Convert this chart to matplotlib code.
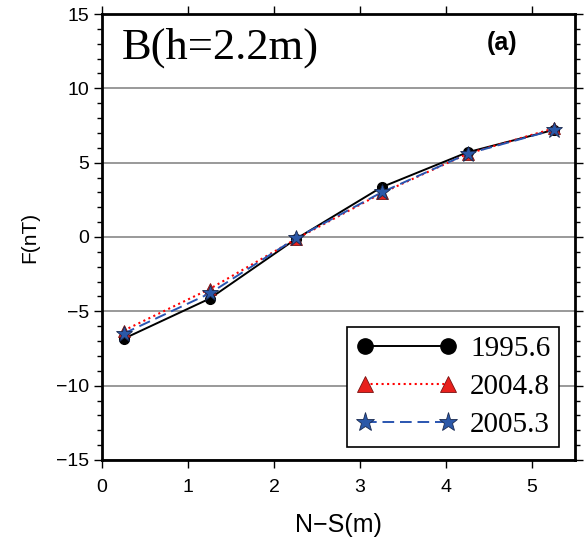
import matplotlib.pyplot as plt
from matplotlib.ticker import MultipleLocator

# data
x = [0.25, 1.25, 2.25, 3.25, 4.25, 5.25]
f_1995 = [-6.85, -4.15, -0.15, 3.35, 5.7, 7.2]
f_2004 = [-6.3, -3.5, -0.15, 2.95, 5.6, 7.3]
f_2005 = [-6.5, -3.8, -0.1, 3.0, 5.6, 7.2]
labels = ["1995.6", "2004.8", "2005.3"]

plt.rcParams['font.family'] = ['Liberation Sans', 'DejaVu Sans']

fig = plt.figure(figsize=(5.84, 5.39), dpi=100)
ax = fig.add_axes([0.1747, 0.1466, 0.81, 0.8274])

ax.plot(x, f_1995, '-', color='black', lw=1.4, marker='o', ms=7,
        mfc='black', mec='black', label=labels[0], zorder=3)
ax.plot(x, f_2004, ':', color='red', lw=1.5, marker='^', ms=9,
        mfc='#e8201c', mec='#7a1010', mew=0.6, label=labels[1], zorder=4)
ax.plot(x, f_2005, '--', color='#2a55b0', lw=1.4, dashes=(6, 3), marker='*', ms=12,
        mfc='#2b58a8', mec='#1a2a50', mew=0.6, label=labels[2], zorder=5)

ax.set_xlim(0, 5.5)
ax.set_ylim(-15, 15)
ax.xaxis.set_major_locator(MultipleLocator(1))
ax.yaxis.set_major_locator(MultipleLocator(5))
ax.yaxis.set_minor_locator(MultipleLocator(1))
ax.tick_params(which='both', direction='out', top=True, right=True,
               labeltop=False, labelright=False, width=1, colors='black')
ax.tick_params(which='major', length=6, labelsize=14)
ax.tick_params(which='minor', length=3.5)
ax.tick_params(axis='x', pad=8)
ax.grid(axis='y', which='major', color='#888888', lw=1.2)
for s in ax.spines.values():
    s.set_linewidth(2)

ax.set_xlabel("N\u2212S(m)", fontsize=18, labelpad=12)
ax.set_ylabel("F(nT)", fontsize=15, labelpad=12)

ax.text(0.042, 0.924, "B(h=2.2m)", transform=ax.transAxes, fontsize=32,
        family='Liberation Serif', va='center', ha='left')
ax.text(0.846, 0.935, "(a)", transform=ax.transAxes, fontsize=18,
        fontweight='bold', va='center', ha='center')

leg = ax.legend(loc='lower right', bbox_to_anchor=(0.966, 0.029), handlelength=3.45,
                numpoints=2,
                prop={'family': 'Liberation Serif', 'size': 21}, frameon=True,
                fancybox=False, edgecolor='black', framealpha=1,
                borderpad=0.3, labelspacing=0.4, handletextpad=0.45, borderaxespad=0)
leg.get_frame().set_linewidth(1.2)
for h, ms in zip(leg.legend_handles, [11, 12, 14]):
    h.set_markersize(ms)

fig.savefig("out.png", dpi=100)
